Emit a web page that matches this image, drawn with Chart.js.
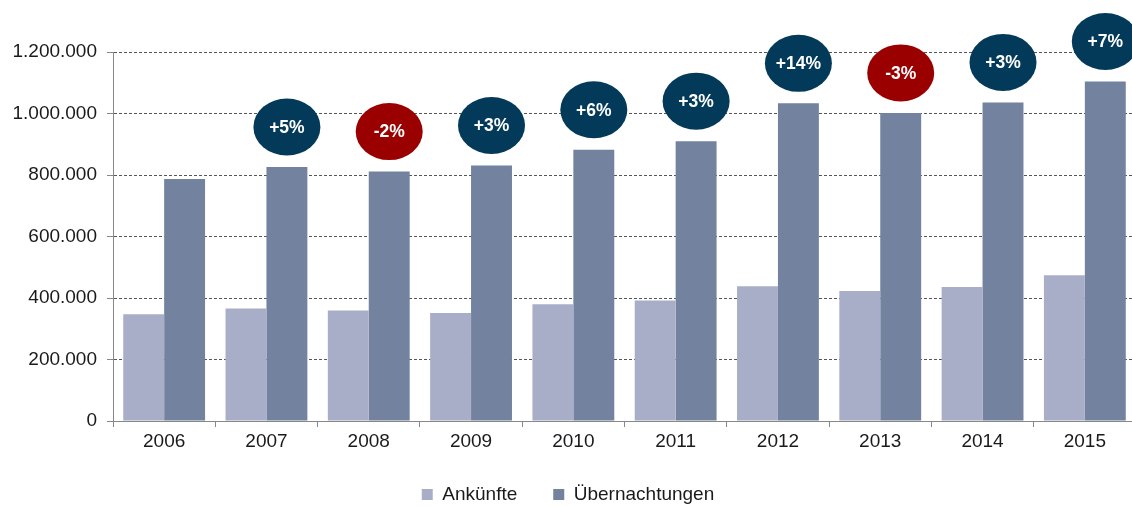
<!DOCTYPE html>
<html><head><meta charset="utf-8">
<script src="https://cdn.jsdelivr.net/npm/chart.js@4.4.1/dist/chart.umd.min.js"></script>
<style>html,body{margin:0;padding:0;background:#fff;overflow:hidden}#wrap{width:1136px;height:507px;position:relative}</style>
</head><body><div id="wrap"><canvas id="c"></canvas></div>
<script>
const years = ['2006','2007','2008','2009','2010','2011','2012','2013','2014','2015'];
const arrivals = [347000,366000,359000,351000,380000,392000,438000,423000,436000,474000];
const overnights = [787000,826000,811000,831000,882000,910000,1033000,1002000,1036000,1104000];
const changeLabels = [null,'+5%','-2%','+3%','+6%','+3%','+14%','-3%','+3%','+7%'];
const seriesNames = ['Ankünfte','Übernachtungen'];
const yMax = 1200000;
const yStep = 200000;

const FONT = '"Liberation Sans", Arial, sans-serif';
const fmt = v => String(v).replace(/\B(?=(\d{3})+(?!\d))/g, '.');

const bubblePlugin = {
  id: 'bubbles',
  afterDatasetsDraw(chart) {
    const meta = chart.getDatasetMeta(1);
    const ctx = chart.ctx;
    changeLabels.forEach((t, i) => {
      if (!t) return;
      const bar = meta.data[i];
      const cx = bar.x, cy = bar.y - 40;
      ctx.save();
      ctx.beginPath();
      ctx.ellipse(cx, cy, 33.5, 28.5, 0, 0, Math.PI * 2);
      ctx.fillStyle = t.startsWith('-') ? '#9b0000' : '#033a59';
      ctx.fill();
      ctx.fillStyle = '#ffffff';
      ctx.font = 'bold 17.5px ' + FONT;
      ctx.textAlign = 'center';
      ctx.textBaseline = 'middle';
      ctx.fillText(t, cx, cy + 1);
      ctx.restore();
    });
  }
};

new Chart(document.getElementById('c'), {
  type: 'bar',
  data: {
    labels: years,
    datasets: [
      { label: seriesNames[0], data: arrivals, backgroundColor: '#a9aec8', barPercentage: 1, categoryPercentage: 0.8 },
      { label: seriesNames[1], data: overnights, backgroundColor: '#72829f', barPercentage: 1, categoryPercentage: 0.8 }
    ]
  },
  options: {
    responsive: true,
    maintainAspectRatio: false,
    animation: false,
    layout: { padding: { top: 52, right: 0, bottom: 0, left: 0 } },
    plugins: {
      tooltip: { enabled: false },
      legend: {
        position: 'bottom',
        maxHeight: 58,
        labels: { boxWidth: 11, boxHeight: 11, color: '#1a1a1a', font: { size: 19, family: FONT }, padding: 36 }
      }
    },
    scales: {
      x: {
        afterFit: s => { s.height = 28; },
        grid: { display: true, drawOnChartArea: false, drawTicks: true, tickLength: 6, tickColor: '#888', offset: true },
        border: { color: '#888', width: 1 },
        ticks: { color: '#1a1a1a', font: { size: 19, family: FONT }, padding: 3, maxRotation: 0 }
      },
      y: {
        min: 0, max: yMax,
        afterFit: s => { s.width = 113; },
        ticks: { stepSize: yStep, color: '#1a1a1a', font: { size: 19, family: FONT }, padding: 10, callback: v => fmt(v) },
        grid: { color: c => (c.tick && c.tick.value === 0) ? 'rgba(0,0,0,0)' : '#555', tickColor: '#888', tickLength: 6, lineWidth: 1 },
        border: { color: '#888', width: 1, dash: [3, 2] }
      }
    }
  },
  plugins: [bubblePlugin]
});
</script>
</body></html>
